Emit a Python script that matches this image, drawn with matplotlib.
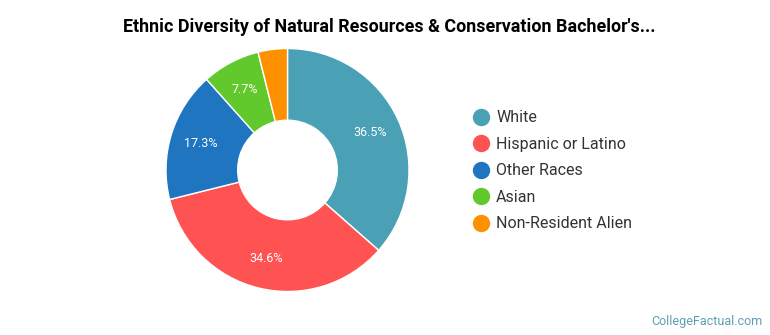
import numpy as np
import matplotlib.pyplot as plt
from matplotlib.lines import Line2D

plt.rcParams['font.family'] = ['Roboto', 'DejaVu Sans']

labels = ['White', 'Hispanic or Latino', 'Other Races', 'Asian', 'Non-Resident Alien']
values = [36.5, 34.6, 17.3, 7.7, 3.9]
colors = ['#4aa0b5', '#ff5253', '#1f75c0', '#62c92c', '#ff9000']
shown = ['36.5%', '34.6%', '17.3%', '7.7%', '']

W, H = 770, 335
fig = plt.figure(figsize=(W / 100, H / 100), dpi=100)

# pie axes: center (287.5, 170) px, radius 121.5 px
cx, cy, r = 287.5, 170, 121.5
ax = fig.add_axes([(cx - r) / W, (H - cy - r) / H, 2 * r / W, 2 * r / H])
wedges, _ = ax.pie(values, colors=colors, startangle=90, counterclock=False,
                   radius=1.0, wedgeprops=dict(width=0.59, edgecolor='white', linewidth=1))
ang = 90
for v, s in zip(values, shown):
    mid = ang - v * 3.6 / 2
    ang -= v * 3.6
    if s:
        ax.text(0.75 * np.cos(np.radians(mid)), 0.75 * np.sin(np.radians(mid)), s,
                ha='center', va='center', color='white', fontsize=9)
ax.set_xlim(-1, 1)
ax.set_ylim(-1, 1)
ax.set_aspect('equal')
ax.axis('off')

handles = [Line2D([], [], marker='o', linestyle='', markersize=11.5,
                  markerfacecolor=c, markeredgecolor=c) for c in colors]
fig.legend(handles, labels, loc='upper left', bbox_to_anchor=(457 / W, 1 - 96 / H),
           frameon=False, fontsize=11.5, labelspacing=0.72, handletextpad=0.35,
           handlelength=1.2, labelcolor='#333333')

fig.text(389 / W, 1 - 27 / H, "Ethnic Diversity of Natural Resources & Conservation Bachelor's...",
         ha='center', va='center', fontsize=12.9, fontweight='bold', color='black')
fig.text(763 / W, 1 - 322 / H, 'CollegeFactual.com', ha='right', va='center',
         fontsize=9, color='#5b9fb3')

fig.savefig('out.png', dpi=100)
